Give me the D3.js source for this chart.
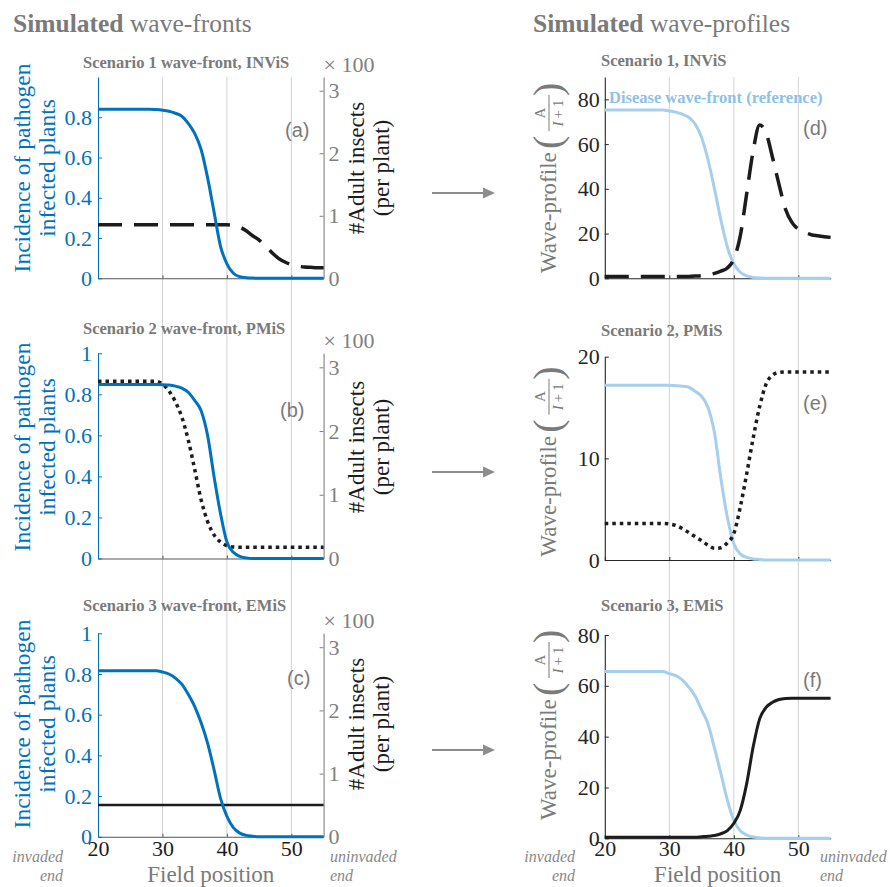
<!DOCTYPE html>
<html>
<head>
<meta charset="utf-8">
<script src="https://cdn.jsdelivr.net/npm/d3@7"></script>
<style>
  body { margin: 0; background: #fff; }
  svg { display: block; }
</style>
</head>
<body>
<div id="chart"></div>
<script>
// field positions shared by every series
const fieldPos = [20, 21, 22, 23, 24, 25, 26, 27, 28, 29, 30, 31, 32, 33, 34, 35, 36, 37,
  38, 39, 40, 41, 42, 43, 44, 45, 46, 47, 48, 49, 50, 51, 52, 53, 54, 55];

// wave-fronts: incidence of infected plants (left axis)
const incidenceA = [0.84, 0.84, 0.84, 0.84, 0.84, 0.84, 0.84, 0.84, 0.84, 0.838, 0.835, 0.83,
  0.82, 0.805, 0.77, 0.72, 0.64, 0.50, 0.33, 0.16, 0.072, 0.025, 0.008, 0.003, 0.001,
  0, 0, 0, 0, 0, 0, 0, 0, 0, 0, 0];
const incidenceB = [0.848, 0.848, 0.848, 0.848, 0.848, 0.848, 0.848, 0.848, 0.848, 0.848, 0.847,
  0.845, 0.84, 0.83, 0.81, 0.77, 0.72, 0.60, 0.40, 0.22, 0.08, 0.03, 0.01, 0.003,
  0, 0, 0, 0, 0, 0, 0, 0, 0, 0, 0, 0];
const incidenceC = [0.816, 0.816, 0.816, 0.816, 0.816, 0.816, 0.816, 0.816, 0.816, 0.816, 0.81,
  0.80, 0.78, 0.75, 0.70, 0.64, 0.56, 0.46, 0.33, 0.19, 0.10, 0.045, 0.018, 0.007, 0.003,
  0, 0, 0, 0, 0, 0, 0, 0, 0, 0, 0];

// wave-fronts: adult insects per plant (right axis, shown x100)
const insectsA = [85.5, 85.5, 85.5, 85.5, 85.5, 85.5, 85.5, 85.5, 85.5, 85.5, 85.5, 85.5, 85.5,
  85.5, 85.5, 85.5, 85.5, 85.5, 85.5, 85.5, 85.5, 84.5, 82, 76, 68, 61, 51, 41, 32, 26, 22,
  19.5, 18, 17.5, 17, 17];
const insectsB = [278, 278, 278, 278, 278, 278, 278, 278, 278, 278, 274, 263, 246, 222, 186,
  140, 92, 58, 37, 26, 20, 18, 17.5, 17.5, 17.5, 17.5, 17.5, 17.5, 17.5, 17.5, 17.5, 17.5,
  17.5, 17.5, 17.5, 17.5];
const insectsC = [50.5, 50.5, 50.5, 50.5, 50.5, 50.5, 50.5, 50.5, 50.5, 50.5, 50.5, 50.5, 50.5,
  50.5, 50.5, 50.5, 50.5, 50.5, 50.5, 50.5, 50.5, 50.5, 50.5, 50.5, 50.5, 50.5, 50.5, 50.5,
  50.5, 50.5, 50.5, 50.5, 50.5, 50.5, 50.5, 50.5];

// wave-profiles A/(I+1)
const profileD = [0.8, 0.8, 0.8, 0.8, 0.8, 0.8, 0.8, 0.8, 0.8, 0.8, 0.8, 0.8, 0.8, 0.85, 1.0,
  1.2, 1.6, 2.2, 3.2, 4.6, 8.6, 19, 38, 57, 68.5, 65, 54, 42, 31, 25, 22, 20.5, 19.5, 19,
  18.6, 18.3];
const profileE = [3.6, 3.6, 3.6, 3.6, 3.6, 3.6, 3.6, 3.6, 3.6, 3.6, 3.55, 3.4, 3.1, 2.7, 2.3,
  1.9, 1.45, 1.15, 1.2, 1.7, 2.6, 5.2, 8.5, 12.0, 15.1, 17.3, 18.2, 18.45, 18.5, 18.5, 18.5,
  18.5, 18.5, 18.5, 18.5, 18.5];
const profileF = [0.4, 0.4, 0.4, 0.4, 0.4, 0.4, 0.4, 0.4, 0.4, 0.4, 0.4, 0.4, 0.4, 0.4, 0.4,
  0.6, 0.8, 1.1, 1.8, 3.0, 5.9, 11, 21.6, 36, 47, 51.5, 53.5, 54.6, 55, 55.1, 55.1, 55.1,
  55.1, 55.1, 55.1, 55.1];

// disease wave-front drawn as reference in the profile panels
const referenceD = [75.3, 75.3, 75.3, 75.3, 75.3, 75.3, 75.3, 75.3, 75.3, 75.3, 74.8, 74.3,
  73.4, 72, 69, 63, 53, 40, 26, 14, 6.5, 2.7, 1.1, 0.4, 0.15, 0, 0, 0, 0, 0, 0, 0, 0, 0, 0, 0];
const referenceE = [17.2, 17.2, 17.2, 17.2, 17.2, 17.2, 17.2, 17.2, 17.2, 17.2, 17.2, 17.15,
  17.1, 17.0, 16.6, 16.1, 15.0, 12.5, 8.0, 4.2, 1.6, 0.6, 0.25, 0.1, 0.05,
  0, 0, 0, 0, 0, 0, 0, 0, 0, 0, 0];
const referenceF = [65.6, 65.6, 65.6, 65.6, 65.6, 65.6, 65.6, 65.6, 65.6, 65.6, 64.8, 64, 62.3,
  59.5, 56, 50.5, 45, 35.5, 25.5, 15, 7, 3, 1.3, 0.5, 0.2, 0, 0, 0, 0, 0, 0, 0, 0, 0, 0, 0];

// ticks and labels
const xTicks = [20, 30, 40, 50];
const gridTicks = [30, 40, 50];
const incidenceTicks = [[0, 0.2, 0.4, 0.6, 0.8], [0, 0.2, 0.4, 0.6, 0.8, 1], [0, 0.2, 0.4, 0.6, 0.8, 1]];
const insectTicks = [0, 100, 200, 300];
const profileTicks = [[0, 20, 40, 60, 80], [0, 10, 20], [0, 20, 40, 60, 80]];
const profileMax = [90, 20, 80];
const frontTitles = ["Scenario 1 wave-front, INViS", "Scenario 2 wave-front, PMiS", "Scenario 3 wave-front, EMiS"];
const profileTitles = ["Scenario 1, INViS", "Scenario 2, PMiS", "Scenario 3, EMiS"];
const frontLetters = ["(a)", "(b)", "(c)"];
const profileLetters = ["(d)", "(e)", "(f)"];

const frontSeries = [
  { inc: incidenceA, ins: insectsA, dash: "24,12", width: 3.5 },
  { inc: incidenceB, ins: insectsB, dash: "3.5,4", width: 3.5 },
  { inc: incidenceC, ins: insectsC, dash: null, width: 2.5 },
];
const profileSeries = [
  { ref: referenceD, val: profileD, dash: "24,12", width: 3.5 },
  { ref: referenceE, val: profileE, dash: "3.5,4", width: 3.5 },
  { ref: referenceF, val: profileF, dash: null, width: 3 },
];

// layout
const width = 890, height = 887;
const serif = '"Liberation Serif", "Times New Roman", serif';
const sans = '"Liberation Sans", Arial, sans-serif';
const blue = "#0072bd", lightBlue = "#a6cfeb", ink = "#1c1c1c", grey = "#7a7a7a";
const cols = [{ x0: 98, x1: 323.6 }, { x0: 604.8, x1: 830.6 }];
const frontRows = [{ top: 77, bottom: 278.3 }, { top: 353.3, bottom: 558.5 }, { top: 633.3, bottom: 836.8 }];
const profileRows = [{ top: 77, bottom: 278.3 }, { top: 356.7, bottom: 560 }, { top: 635, bottom: 838.3 }];
const frontTitleY = [68, 334, 611];
const profileTitleY = [66, 336, 611];
const frontLetterPos = [[285, 137], [280, 417], [287, 685]];
const profileLetterPos = [[803, 135], [803, 410], [803, 687]];
const frontLabelY = [168, 447, 724];
const profileLabelBase = [273, 556.7, 820];
const arrowY = [193, 472, 750];

const svg = d3.select("#chart").append("svg")
  .attr("width", width)
  .attr("height", height);

function setFont(sel, size, family) {
  return sel.style("font-family", family || serif).style("font-size", size + "px");
}

// section titles
[["Simulated", " wave-fronts", 13], ["Simulated", " wave-profiles", 533]].forEach(t => {
  const txt = setFont(svg.append("text"), 25.5)
    .attr("x", t[2]).attr("y", 31.5)
    .style("fill", grey);
  txt.append("tspan").style("font-weight", "bold").text(t[0]);
  txt.append("tspan").text(t[1]);
});

// vertical gridlines run through all three rows of each column
cols.forEach((c, ci) => {
  const x = d3.scaleLinear().domain([20, 55]).range([c.x0, c.x1]);
  const bottom = ci === 0 ? frontRows[2].bottom : profileRows[2].bottom;
  svg.append("g").selectAll("line")
    .data(gridTicks)
    .enter()
    .append("line")
    .attr("x1", d => x(d)).attr("x2", d => x(d))
    .attr("y1", 77).attr("y2", bottom)
    .attr("stroke", "#d2d2d2")
    .attr("stroke-width", 1);
});

function styleAxis(g, color, size) {
  g.attr("color", color).attr("font-family", null).attr("font-size", null);
  setFont(g.selectAll("text"), size).style("fill", color);
  g.select(".domain").attr("stroke-width", 1.1);
}

function drawFront(i) {
  const r = frontRows[i], c = cols[0], s = frontSeries[i];
  const x = d3.scaleLinear().domain([20, 55]).range([c.x0, c.x1]);
  const yInc = d3.scaleLinear().domain([0, 1]).range([r.bottom, r.top]);
  const yIns = d3.scaleLinear().domain([0, 322]).range([r.bottom, r.top]);

  const gx = svg.append("g")
    .attr("transform", `translate(0,${r.bottom})`)
    .call(d3.axisBottom(x).tickValues(xTicks).tickSizeInner(-3).tickSizeOuter(0).tickPadding(4));
  styleAxis(gx, "#555", 22);
  gx.selectAll("text").style("fill", ink);
  if (i < 2) gx.selectAll("text").remove();

  const gl = svg.append("g")
    .attr("transform", `translate(${c.x0},0)`)
    .call(d3.axisLeft(yInc).tickValues(incidenceTicks[i]).tickSizeInner(-4).tickSizeOuter(0)
      .tickPadding(6).tickFormat(d3.format("~g")));
  styleAxis(gl, blue, 22);

  const gr = svg.append("g")
    .attr("transform", `translate(${c.x1},0)`)
    .call(d3.axisRight(yIns).tickValues(insectTicks).tickSizeInner(-4).tickSizeOuter(0)
      .tickPadding(5).tickFormat(d => d / 100));
  styleAxis(gr, "#808080", 22);

  setFont(svg.append("text"), 22)
    .attr("x", c.x1).attr("y", r.top - 5)
    .style("fill", "#808080")
    .text("\u00d7 100");

  const line = ys => d3.line()
    .x((d, k) => x(fieldPos[k]))
    .y(d => ys(d))
    .curve(d3.curveMonotoneX);

  svg.append("path")
    .attr("d", line(yIns)(s.ins))
    .attr("fill", "none")
    .attr("stroke", ink)
    .attr("stroke-width", s.width)
    .attr("stroke-dasharray", s.dash);

  svg.append("path")
    .attr("d", line(yInc)(s.inc))
    .attr("fill", "none")
    .attr("stroke", blue)
    .attr("stroke-width", 3);

  setFont(svg.append("text"), 16.5)
    .attr("x", 83).attr("y", frontTitleY[i])
    .style("font-weight", "bold")
    .style("fill", grey)
    .text(frontTitles[i]);

  setFont(svg.append("text"), 20, sans)
    .attr("x", frontLetterPos[i][0]).attr("y", frontLetterPos[i][1])
    .style("fill", grey)
    .text(frontLetters[i]);

  // left axis title, two lines
  [["Incidence of pathogen", 30], ["infected plants", 55]].forEach(l => {
    setFont(svg.append("text"), 23.5)
      .attr("transform", `translate(${l[1]},${frontLabelY[i]}) rotate(-90)`)
      .attr("text-anchor", "middle")
      .style("fill", blue)
      .text(l[0]);
  });
  [["#Adult insects", 364], ["(per plant)", 389]].forEach(l => {
    setFont(svg.append("text"), 23)
      .attr("transform", `translate(${l[1]},${frontLabelY[i]}) rotate(-90)`)
      .attr("text-anchor", "middle")
      .style("fill", ink)
      .text(l[0]);
  });
}

function drawProfile(i) {
  const r = profileRows[i], c = cols[1], s = profileSeries[i];
  const x = d3.scaleLinear().domain([20, 55]).range([c.x0, c.x1]);
  const y = d3.scaleLinear().domain([0, profileMax[i]]).range([r.bottom, r.top]);

  const gx = svg.append("g")
    .attr("transform", `translate(0,${r.bottom})`)
    .call(d3.axisBottom(x).tickValues(xTicks).tickSizeInner(-3).tickSizeOuter(0).tickPadding(2.5));
  styleAxis(gx, "#262626", 22);
  if (i < 2) gx.selectAll("text").remove();

  const gy = svg.append("g")
    .attr("transform", `translate(${c.x0},0)`)
    .call(d3.axisLeft(y).tickValues(profileTicks[i]).tickSizeInner(-4).tickSizeOuter(0).tickPadding(5));
  styleAxis(gy, "#262626", 22);

  const line = d3.line()
    .x((d, k) => x(fieldPos[k]))
    .y(d => y(d))
    .curve(d3.curveMonotoneX);

  svg.append("path")
    .attr("d", line(s.ref))
    .attr("fill", "none")
    .attr("stroke", lightBlue)
    .attr("stroke-width", 3);

  svg.append("path")
    .attr("d", line(s.val))
    .attr("fill", "none")
    .attr("stroke", ink)
    .attr("stroke-width", s.width)
    .attr("stroke-dasharray", s.dash);

  setFont(svg.append("text"), 16.5)
    .attr("x", 601).attr("y", profileTitleY[i])
    .style("font-weight", "bold")
    .style("fill", grey)
    .text(profileTitles[i]);

  setFont(svg.append("text"), 20, sans)
    .attr("x", profileLetterPos[i][0]).attr("y", profileLetterPos[i][1])
    .style("fill", grey)
    .text(profileLetters[i]);

  // y label: Wave-profile (A / (I+1))
  const g = svg.append("g")
    .attr("transform", `translate(556,${profileLabelBase[i]}) rotate(-90)`)
    .style("fill", grey);
  setFont(g.append("text"), 23).attr("x", 0).attr("y", 0).text("Wave-profile");
  setFont(g.append("text"), 40).attr("x", 124).attr("y", 5).text("(");
  setFont(g.append("text"), 15)
    .attr("x", 160).attr("y", -11)
    .attr("text-anchor", "middle")
    .text("A");
  g.append("line")
    .attr("x1", 142).attr("x2", 178)
    .attr("y1", -7).attr("y2", -7)
    .attr("stroke", grey).attr("stroke-width", 1);
  const den = setFont(g.append("text"), 15)
    .attr("x", 160).attr("y", 6.5)
    .attr("text-anchor", "middle");
  den.append("tspan").style("font-style", "italic").text("I");
  den.append("tspan").text("\u2009+\u20091");
  setFont(g.append("text"), 40).attr("x", 177).attr("y", 5).text(")");

  // arrow between the two columns
  svg.append("line")
    .attr("x1", 432).attr("x2", 485)
    .attr("y1", arrowY[i]).attr("y2", arrowY[i])
    .attr("stroke", "#8c8c8c").attr("stroke-width", 2.2);
  svg.append("path")
    .attr("d", `M483,${arrowY[i] - 5.5}L495,${arrowY[i]}L483,${arrowY[i] + 5.5}Z`)
    .attr("fill", "#8c8c8c");
}

[0, 1, 2].forEach(i => { drawFront(i); drawProfile(i); });

setFont(svg.append("text"), 16.5)
  .attr("x", 609).attr("y", 103)
  .style("font-weight", "bold")
  .style("fill", "#8ec1e6")
  .text("Disease wave-front (reference)");

// x titles and field-end notes under the bottom row
[[210.8, 63, 330], [717.7, 575, 820]].forEach(p => {
  setFont(svg.append("text"), 23)
    .attr("x", p[0]).attr("y", 881.5)
    .attr("text-anchor", "middle")
    .style("fill", grey)
    .text("Field position");
  [["invaded", 862], ["end", 881]].forEach(t => {
    setFont(svg.append("text"), 16)
      .attr("x", p[1]).attr("y", t[1])
      .attr("text-anchor", "end")
      .style("font-style", "italic")
      .style("fill", "#888")
      .text(t[0]);
  });
  [["uninvaded", 862], ["end", 881]].forEach(t => {
    setFont(svg.append("text"), 16)
      .attr("x", p[2]).attr("y", t[1])
      .style("font-style", "italic")
      .style("fill", "#888")
      .text(t[0]);
  });
});
</script>
</body>
</html>
